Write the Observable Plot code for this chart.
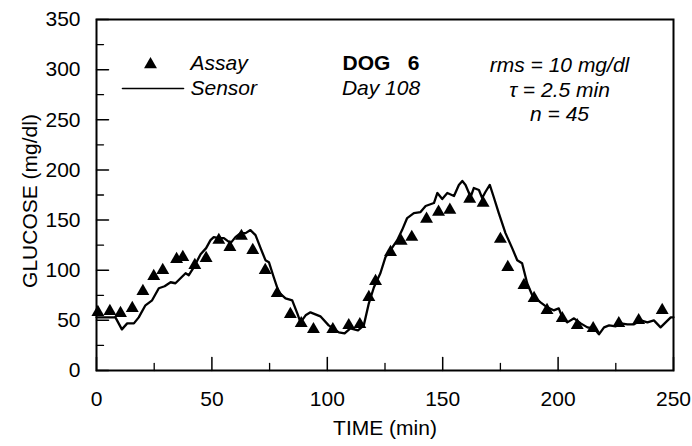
<!DOCTYPE html>
<html>
<head>
<meta charset="utf-8">
<script src="https://cdn.jsdelivr.net/npm/d3@7"></script>
<script src="https://cdn.jsdelivr.net/npm/@observablehq/plot@0.6"></script>
<style>
  html, body { margin: 0; padding: 0; background: #fff; }
  #chart { width: 692px; height: 446px; }
  svg text { white-space: pre; }
</style>
</head>
<body>
<div id="chart"></div>
<script>
// Assay samples (time in min, glucose in mg/dl)
const assayTime = [0.6, 5.8, 10.4, 15.5, 20.1, 24.8, 28.7, 34.7, 37.4, 42.6, 47.5, 53, 57.8, 62.8, 67.7, 73.1, 78.3, 84, 88.7, 94, 102.4, 109.3, 114.1, 118, 120.9, 127.4, 132, 136.6, 143, 148.2, 153.1, 161.7, 167.5, 175, 178.2, 185.2, 189.6, 195.2, 201.8, 208.3, 215.2, 226.3, 234.9, 245.1];
const assayGlucose = [58, 59, 57, 62, 79, 94, 100, 111, 113, 105, 112, 130, 123, 134, 120, 100, 77, 56, 47, 41, 41, 45, 46, 73, 89, 118, 129, 133, 151, 158, 160, 171, 167, 131, 103, 85, 72, 60, 52, 45, 42, 47, 50, 60];

// Continuous sensor trace
const sensorTime = [0, 8.2, 11, 13.3, 16.2, 18.3, 21.2, 24.1, 27, 29.5, 32.1, 34.2, 36.4, 38.6, 40, 42.2, 45.1, 47.5, 49.4, 50.8, 53, 55.2, 58.1, 60.2, 62.4, 64.6, 66.7, 68.9, 71.1, 73.2, 74.7, 76.8, 79, 81.9, 84.8, 87, 88.4, 90.6, 92.7, 97, 100.6, 105, 107.5, 110, 113.3, 115.8, 118, 120.2, 123, 125.2, 127.4, 130.3, 132.4, 134.6, 137.5, 140.4, 142.6, 146.2, 147.7, 149.8, 152, 154.9, 157, 158.5, 159.9, 162.1, 163.5, 165.7, 167.1, 168.5, 170.4, 172.1, 174.3, 177.2, 180.1, 182.3, 184.4, 186.6, 188.8, 192.4, 195.3, 198.1, 200.3, 201.8, 204, 206.9, 209.8, 212.7, 215.6, 217.7, 219.9, 222.1, 225, 227.2, 230, 232.9, 235.8, 238.7, 241.5, 244.4, 246.6, 248.8, 250];
const sensorGlucose = [53, 53, 41, 47, 47, 53, 65, 70, 82, 84, 88, 87, 92, 97, 95, 103, 116, 122, 130, 133, 132, 132, 127, 133, 137, 137, 140, 135, 122, 110, 108, 93, 78, 72, 70, 57, 48, 55, 58, 54, 45, 38, 37, 42, 40, 45, 67, 83, 97, 113, 120, 130, 140, 152, 157, 158, 164, 167, 177, 171, 177, 174, 185, 189, 185, 173, 182, 180, 172, 178, 185, 173, 157, 137, 122, 110, 107, 87, 75, 68, 63, 60, 62, 53, 48, 52, 47, 43, 42, 36, 43, 45, 44, 47, 46, 46, 50, 48, 50, 43, 48, 53, 53];

// Ticks
const xMajorTicks = [0, 50, 100, 150, 200, 250];
const xMinorTicks = [25, 75, 125, 175, 225];
const yMajorTicks = [0, 50, 100, 150, 200, 250, 300, 350];
const yMinorTicks = [25, 75, 125, 175, 225, 275, 325];

// Text
const xLabel = "TIME (min)";
const yLabel = "GLUCOSE (mg/dl)";
const legendAssay = "Assay";
const legendSensor = "Sensor";
const titleText = "DOG   6";
const subtitleText = "Day 108";
const statsLines = ["rms = 10 mg/dl", "τ = 2.5 min", "n = 45"];

const assay = assayTime.map((t, i) => ({t, g: assayGlucose[i]}));
const sensor = sensorTime.map((t, i) => ({t, g: sensorGlucose[i]}));

const font = "'Liberation Sans', Arial, Helvetica, sans-serif";
const FS = 21;
const lineShape = {draw(context, l) { context.moveTo(0, 0); context.lineTo(0, -l); }};

const chart = Plot.plot({
  width: 692,
  height: 446,
  marginLeft: 96,
  marginRight: 19,
  marginTop: 19,
  marginBottom: 76,
  style: {fontFamily: font, fontSize: FS + "px", color: "black", background: "white"},
  x: {domain: [0, 250], axis: null},
  y: {domain: [0, 350], axis: null},
  marks: [
    // tick labels
    Plot.axisX({ticks: xMajorTicks, tickSize: 0, tickPadding: 21, tickFormat: d3.format("d"), label: null, fontSize: FS}),
    Plot.axisY({ticks: yMajorTicks, tickSize: 0, tickPadding: 16, tickFormat: d3.format("d"), label: null, fontSize: FS}),
    // inward ticks
    Plot.vector(xMajorTicks, {x: d => d, frameAnchor: "bottom", length: 13, rotate: 0, anchor: "start", shape: lineShape, stroke: "black", strokeWidth: 1.5}),
    Plot.vector(xMinorTicks, {x: d => d, frameAnchor: "bottom", length: 7, rotate: 0, anchor: "start", shape: lineShape, stroke: "black", strokeWidth: 1.3}),
    Plot.vector(yMajorTicks, {y: d => d, frameAnchor: "left", length: 12, rotate: 90, anchor: "start", shape: lineShape, stroke: "black", strokeWidth: 1.5}),
    Plot.vector(yMinorTicks, {y: d => d, frameAnchor: "left", length: 7, rotate: 90, anchor: "start", shape: lineShape, stroke: "black", strokeWidth: 1.3}),
    Plot.frame({stroke: "black", strokeWidth: 2}),
    // axis titles
    Plot.text([xLabel], {frameAnchor: "bottom", dy: 58, text: d => d, textAnchor: "middle", lineAnchor: "middle", fontSize: FS}),
    Plot.text([yLabel], {frameAnchor: "left", dx: -66, dy: 6, rotate: -90, text: d => d, textAnchor: "middle", lineAnchor: "middle", fontSize: FS}),
    // data
    Plot.line(sensor, {x: "t", y: "g", stroke: "black", strokeWidth: 2.3, strokeLinejoin: "round"}),
    Plot.dot(assay, {x: "t", y: "g", symbol: "triangle", r: 4.8, fill: "black", stroke: "none"}),
    // legend
    Plot.dot([legendAssay], {frameAnchor: "top-left", dx: 54, dy: 45, symbol: "triangle", r: 4.8, fill: "black"}),
    Plot.text([legendAssay], {frameAnchor: "top-left", dx: 94, dy: 44, text: d => d, textAnchor: "start", lineAnchor: "middle", fontStyle: "italic", fontSize: FS}),
    Plot.vector([legendSensor], {frameAnchor: "top-left", dx: 26, dy: 69, length: 61, rotate: 90, anchor: "start", shape: lineShape, stroke: "black", strokeWidth: 1.6}),
    Plot.text([legendSensor], {frameAnchor: "top-left", dx: 94, dy: 69, text: d => d, textAnchor: "start", lineAnchor: "middle", fontStyle: "italic", fontSize: FS}),
    // annotations
    Plot.text([titleText], {frameAnchor: "top", dx: -4, dy: 44, text: d => d, textAnchor: "middle", lineAnchor: "middle", fontWeight: "bold", fontSize: FS}),
    Plot.text([subtitleText], {frameAnchor: "top", dx: -4, dy: 69, text: d => d, textAnchor: "middle", lineAnchor: "middle", fontStyle: "italic", fontSize: FS}),
    Plot.text([statsLines.join("\n")], {frameAnchor: "top-right", dx: -114, dy: 69, text: d => d, textAnchor: "middle", lineAnchor: "middle", lineHeight: 1.19, fontStyle: "italic", fontSize: FS})
  ]
});
document.getElementById("chart").appendChild(chart);
</script>
</body>
</html>
